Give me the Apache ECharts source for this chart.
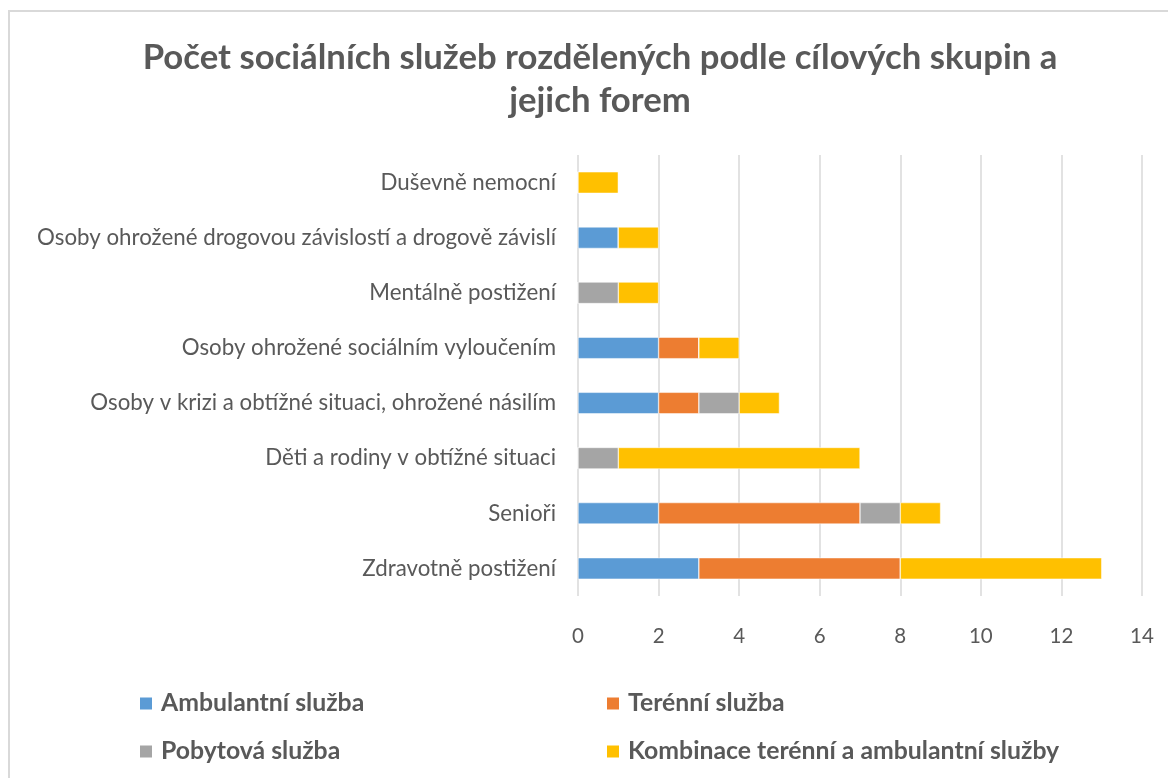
<!DOCTYPE html>
<html>
<head>
<meta charset="utf-8">
<script src="https://cdn.jsdelivr.net/npm/echarts@6/dist/echarts.min.js"></script>
<style>
  html, body { margin: 0; padding: 0; background: #fff; }
  #chart { width: 1168px; height: 778px; }
</style>
</head>
<body>
<div id="chart"></div>
<script>
// Target groups, listed from top to bottom
const categories = [
  'Duševně nemocní',
  'Osoby ohrožené drogovou závislostí a drogově závislí',
  'Mentálně postižení',
  'Osoby ohrožené sociálním vyloučením',
  'Osoby v krizi a obtížné situaci, ohrožené násilím',
  'Děti a rodiny v obtížné situaci',
  'Senioři',
  'Zdravotně postižení'
];

const seriesNames = [
  'Ambulantní služba',
  'Terénní služba',
  'Pobytová služba',
  'Kombinace terénní a ambulantní služby'
];

// Number of services per form, in the category order above
const ambulantni = [0, 1, 0, 2, 2, 0, 2, 3];
const terenni    = [0, 0, 0, 1, 1, 0, 5, 5];
const pobytova   = [0, 0, 1, 0, 1, 1, 1, 0];
const kombinace  = [1, 1, 1, 1, 1, 6, 1, 5];

const xTicks = [0, 2, 4, 6, 8, 10, 12, 14];

const colors = ['#5B9BD5', '#ED7D31', '#A5A5A5', '#FFC000'];
const values = [ambulantni, terenni, pobytova, kombinace];
const textColor = '#595959';
const fontFamily = 'Lato, "Open Sans", sans-serif';

const chart = echarts.init(document.getElementById('chart'));

const legendPos = [
  { left: 138, top: 691 },
  { left: 605, top: 691 },
  { left: 138, top: 739 },
  { left: 605, top: 739 }
];

chart.setOption({
  animation: false,
  color: colors,
  title: {
    text: 'Počet sociálních služeb rozdělených podle cílových skupin a\njejich forem',
    left: 595,
    top: 31,
    textAlign: 'center',
    textStyle: {
      color: textColor,
      fontFamily: fontFamily,
      fontWeight: 'bold',
      fontSize: 34.7,
      lineHeight: 43
    }
  },
  graphic: [{
    type: 'rect',
    shape: { x: 9, y: 11, width: 1180, height: 800 },
    style: { fill: 'none', stroke: '#D9D9D9', lineWidth: 2 },
    silent: true
  }],
  legend: seriesNames.map((name, i) => ({
    data: [name],
    left: legendPos[i].left,
    top: legendPos[i].top,
    padding: 0,
    itemWidth: 14,
    itemHeight: 14,
    icon: 'rect',
    textStyle: {
      color: textColor,
      fontFamily: fontFamily,
      fontWeight: 'bold',
      fontSize: 24.8,
      padding: [0, 0, 0, 3]
    }
  })),
  grid: {
    left: 578,
    right: 26,
    top: 155,
    bottom: 182,
    containLabel: false
  },
  xAxis: {
    type: 'value',
    min: 0,
    max: 14,
    interval: 2,
    axisLine: { show: false },
    axisTick: { show: false },
    splitLine: { lineStyle: { color: '#D9D9D9', width: 1.5 } },
    axisLabel: {
      color: textColor,
      fontFamily: fontFamily,
      fontSize: 20.5,
      margin: 30,
      formatter: v => xTicks.includes(v) ? String(v) : ''
    }
  },
  yAxis: {
    type: 'category',
    inverse: true,
    data: categories,
    axisLine: { show: false },
    axisTick: { show: false },
    axisLabel: {
      color: textColor,
      fontFamily: fontFamily,
      fontSize: 22.3,
      margin: 22
    }
  },
  series: seriesNames.map((name, i) => ({
    name: name,
    type: 'bar',
    stack: 'total',
    barWidth: '39%',
    data: values[i],
    itemStyle: { color: colors[i], borderColor: '#ffffff', borderWidth: 0.5 }
  }))
});
</script>
</body>
</html>
